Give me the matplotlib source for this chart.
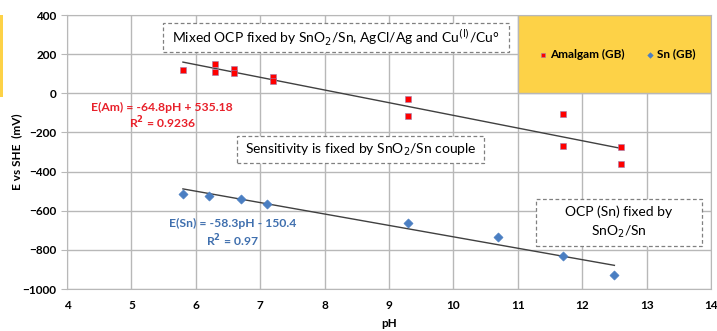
import matplotlib.pyplot as plt
import matplotlib.patches as mpatches
import numpy as np

plt.rcParams['font.family'] = ['Lato', 'DejaVu Sans']

# Amalgam (GB) points
am_ph = [5.8, 6.3, 6.3, 6.6, 6.6, 7.2, 7.2, 9.3, 9.3, 11.7, 11.7, 12.6, 12.6]
am_e = [117, 148, 110, 125, 105, 85, 65, -31, -116, -108, -268, -274, -362]

# Sn (GB) points
sn_ph = [5.8, 6.2, 6.7, 7.1, 9.3, 10.7, 11.7, 12.5]
sn_e = [-513, -523, -538, -564, -663, -736, -829, -926]

# trendlines as printed on the chart
am_fit = (-64.8, 535.18)
sn_fit = (-58.3, -150.4)

red = '#e8202a'
blue = '#3f6fae'
grid_c = '#b8b8b8'

fig = plt.figure(figsize=(7.17, 3.31), dpi=100)
ax = fig.add_axes([67 / 717, 1 - 289 / 331, (711 - 67) / 717, (289 - 15) / 331])

ax.set_xlim(4, 14)
ax.set_ylim(-1000, 400)
ax.set_xticks(np.arange(4, 15, 1))
ax.set_yticks(np.arange(-1000, 401, 200))
ax.grid(True, color=grid_c, lw=1)
ax.set_axisbelow(True)
for s in ax.spines.values():
    s.set_color(grid_c)
ax.tick_params(axis='y', length=4, color=grid_c, labelsize=8.5)
ax.tick_params(axis='x', length=0, labelsize=8.5, pad=8)
for lab in ax.get_xticklabels() + ax.get_yticklabels():
    lab.set_fontweight('bold')

ax.set_xlabel('pH', fontweight='bold', fontsize=8.5, labelpad=5)
ax.set_ylabel('E vs SHE  (mV)', fontweight='bold', fontsize=8.5, labelpad=0)

# legend area
ax.add_patch(mpatches.Rectangle((11, 0), 3, 400, facecolor='#fdd247',
                                edgecolor=grid_c, lw=1, zorder=1.5))

# trendlines
x1 = np.array([min(am_ph), max(am_ph)])
ax.plot(x1, am_fit[0] * x1 + am_fit[1], color='#404040', lw=1, zorder=3)
x2 = np.array([min(sn_ph), max(sn_ph)])
ax.plot(x2, sn_fit[0] * x2 + sn_fit[1], color='#404040', lw=1, zorder=3)

ax.scatter(am_ph, am_e, marker='s', s=22, color='#ff0000', edgecolors='#9a7fb0',
           linewidths=0.4, zorder=4, label='Amalgam (GB)')
ax.scatter(sn_ph, sn_e, marker='D', s=22, color='#4a7ec2', edgecolors='#4a7ec2',
           linewidths=0.4, zorder=4, label='Sn (GB)')

leg = ax.legend(loc='center', bbox_to_anchor=(12.55, 200), bbox_transform=ax.transData,
                ncol=2, frameon=False, fontsize=8.5, markerscale=0.6,
                handlelength=0.6, handletextpad=0.3, columnspacing=1.8)
for t in leg.get_texts():
    t.set_fontweight('bold')
leg.set_zorder(5)


def dashed_box(x0, x1, y0, y1):
    ax.add_patch(mpatches.Rectangle((x0, y0), x1 - x0, y1 - y0, facecolor='white',
                                    edgecolor='#808080', linestyle=(0, (3, 2)),
                                    lw=0.9, zorder=5))


dashed_box(5.49, 10.86, 211, 360)
ax.text(8.18, 285, 'Mixed OCP fixed by SnO$_2$/Sn, AgCl/Ag and Cu$^{(\\mathrm{I})}$/Cu°',
        ha='center', va='center', fontsize=10, zorder=6)
dashed_box(6.64, 10.48, -357, -218)
ax.text(8.56, -287, 'Sensitivity is fixed by SnO$_2$/Sn couple',
        ha='center', va='center', fontsize=10, zorder=6)
dashed_box(11.28, 13.86, -781, -541)
ax.text(12.57, -661, 'OCP (Sn) fixed by\nSnO$_2$/Sn', ha='center', va='center',
        fontsize=10, linespacing=1.5, zorder=6)

ax.text(5.48, -70, 'E(Am) = -64.8pH + 535.18', ha='center', va='center',
        color=red, fontsize=8.7, fontweight='bold', zorder=6)
ax.text(5.48, -150, 'R$^\\mathbf{2}$ = 0.9236', ha='center', va='center',
        color=red, fontsize=8.7, fontweight='bold', zorder=6)
ax.text(6.57, -666, 'E(Sn) = -58.3pH - 150.4', ha='center', va='center',
        color=blue, fontsize=8.7, fontweight='bold', zorder=6)
ax.text(6.57, -753, 'R$^\\mathbf{2}$ = 0.97', ha='center', va='center',
        color=blue, fontsize=8.7, fontweight='bold', zorder=6)

# cropped neighbour chart at the left edge
fig.patches.append(mpatches.Rectangle((0, 1 - 97 / 331), 3 / 717, 82 / 331,
                                      transform=fig.transFigure, facecolor='#fdd247',
                                      edgecolor='none'))

fig.savefig('out.png', dpi=100)
